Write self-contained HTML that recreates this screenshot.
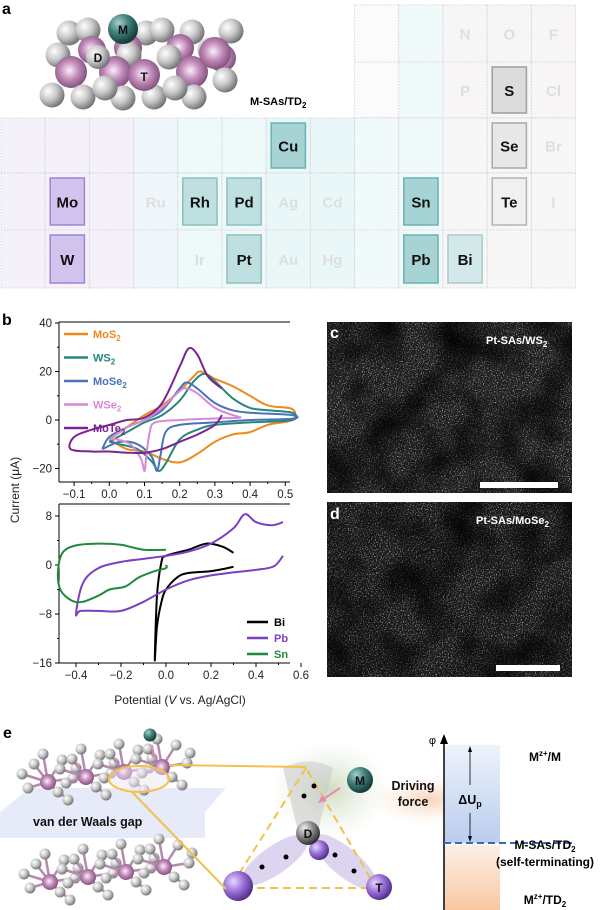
<!DOCTYPE html>
<html><head><meta charset="utf-8">
<style>
html,body{margin:0;padding:0;background:#fff;}
body{width:600px;height:910px;position:relative;overflow:hidden;font-family:"Liberation Sans",Arial,sans-serif;}
svg{position:absolute;left:0;top:0;}
</style></head>
<body>
<svg id="fig" width="600" height="910" viewBox="0 0 600 910" xmlns="http://www.w3.org/2000/svg">
<defs>
 <radialGradient id="gGray" cx="0.35" cy="0.35" r="0.7"><stop offset="0" stop-color="#ffffff"/><stop offset="0.5" stop-color="#c8c8c8"/><stop offset="1" stop-color="#6e6e6e"/></radialGradient>
 <radialGradient id="gPink" cx="0.45" cy="0.45" r="0.65"><stop offset="0" stop-color="#fbeefa"/><stop offset="0.45" stop-color="#c08ab8"/><stop offset="1" stop-color="#6d3f68"/></radialGradient>
 <radialGradient id="gTeal" cx="0.35" cy="0.3" r="0.7"><stop offset="0" stop-color="#a6d0cc"/><stop offset="0.5" stop-color="#3f7f7a"/><stop offset="1" stop-color="#163a38"/></radialGradient>
 <radialGradient id="gPurp" cx="0.35" cy="0.35" r="0.7"><stop offset="0" stop-color="#e6d7ff"/><stop offset="0.5" stop-color="#9a6fd8"/><stop offset="1" stop-color="#4d2c85"/></radialGradient>
 <radialGradient id="gD" cx="0.35" cy="0.3" r="0.7"><stop offset="0" stop-color="#f0f0f0"/><stop offset="0.5" stop-color="#8c8c8c"/><stop offset="1" stop-color="#333"/></radialGradient>
 <radialGradient id="glowG" cx="0.5" cy="0.5" r="0.5"><stop offset="0" stop-color="#c9d8b8" stop-opacity="0.9"/><stop offset="1" stop-color="#e6efe0" stop-opacity="0"/></radialGradient>
 <radialGradient id="glowO" cx="0.5" cy="0.5" r="0.5"><stop offset="0" stop-color="#f6c9a8" stop-opacity="0.8"/><stop offset="1" stop-color="#fbe5d6" stop-opacity="0"/></radialGradient>
 <linearGradient id="blueBand" x1="0" y1="0" x2="0" y2="1"><stop offset="0" stop-color="#eef3fb"/><stop offset="1" stop-color="#b9cdee"/></linearGradient>
 <linearGradient id="orgBand" x1="0" y1="0" x2="0" y2="1"><stop offset="0" stop-color="#fdf0e6"/><stop offset="1" stop-color="#f8c8a2"/></linearGradient>
 <filter id="tem" x="0" y="0" width="100%" height="100%">
  <feTurbulence type="fractalNoise" baseFrequency="0.85" numOctaves="2" seed="3" result="n"/>
  <feColorMatrix in="n" type="matrix" values="0 0 0 0 0  0 0 0 0 0  0 0 0 0 0  3.2 0 0 0 -1.75" result="a"/>
  <feFlood flood-color="#e0e0e0"/>
  <feComposite in2="a" operator="in"/>
 </filter>
 <filter id="tem2" x="0" y="0" width="100%" height="100%">
  <feTurbulence type="fractalNoise" baseFrequency="0.025" numOctaves="2" seed="7" result="n"/>
  <feColorMatrix in="n" type="matrix" values="0 0 0 0 0  0 0 0 0 0  0 0 0 0 0  2.0 0 0 0 -0.75" result="a"/>
  <feFlood flood-color="#000"/>
  <feComposite in2="a" operator="in"/>
 </filter>
</defs>

<!-- panel a -->
<text x="2" y="14" font-size="16" font-weight="bold">a</text>
<g id="ptable"></g>
<g id="ballmodel"></g>
<text x="250" y="105" font-size="11" font-weight="bold">M-SAs/TD<tspan font-size="8" dy="3">2</tspan></text>

<!-- panel b -->
<text x="2" y="325" font-size="16" font-weight="bold">b</text>
<g id="chartTop"></g>
<g id="chartBot"></g>
<text transform="translate(19,490) rotate(-90)" text-anchor="middle" font-size="12" fill="#222">Current (μA)</text>
<text x="180" y="704" text-anchor="middle" font-size="12" fill="#222">Potential (<tspan font-style="italic">V</tspan> vs. Ag/AgCl)</text>

<!-- panels c, d -->
<g>
 <rect x="327" y="322" width="245" height="171" fill="#1e1e1e"/>
 <rect x="327" y="322" width="245" height="171" filter="url(#tem)"/>
 <rect x="327" y="322" width="245" height="171" filter="url(#tem2)"/>
 <rect x="480" y="482" width="78" height="6" fill="#fff"/>
 <text x="330" y="338" font-size="16" font-weight="bold" fill="#fff">c</text>
 <text x="486" y="344" font-size="11" font-weight="bold" fill="#fff">Pt-SAs/WS<tspan font-size="8" dy="3">2</tspan></text>
</g>
<g>
 <rect x="327" y="502" width="245" height="175" fill="#1a1a1a"/>
 <rect x="327" y="502" width="245" height="175" filter="url(#tem)"/>
 <rect x="327" y="502" width="245" height="175" filter="url(#tem2)"/>
 <rect x="496" y="665" width="64" height="6" fill="#fff"/>
 <text x="330" y="519" font-size="16" font-weight="bold" fill="#fff">d</text>
 <text x="476" y="524" font-size="11" font-weight="bold" fill="#fff">Pt-SAs/MoSe<tspan font-size="8" dy="3">2</tspan></text>
</g>

<!-- panel e -->
<text x="3" y="738" font-size="16" font-weight="bold">e</text>
<g>
 <polygon points="0,812 30,788 226,788 205,812 205,838 0,838" fill="#e4e9f8" opacity="0.9"/>
 <text x="33" y="826" font-size="12.5" font-weight="bold" fill="#111">van der Waals gap</text>
</g>
<g id="crystal"></g>
<g>
 <ellipse cx="330" cy="790" rx="60" ry="50" fill="url(#glowG)"/>
 <ellipse cx="430" cy="800" rx="60" ry="25" fill="url(#glowO)"/>
 <path d="M283,768 Q308,755 333,768 L318,832 L298,832 Z" fill="#c8c8c8" opacity="0.55"/>
 <ellipse cx="275" cy="860" rx="40" ry="14" transform="rotate(-35 275 860)" fill="#cfc3ea" opacity="0.7"/>
 <ellipse cx="345" cy="862" rx="40" ry="14" transform="rotate(40 345 862)" fill="#cfc3ea" opacity="0.7"/>
 <polygon points="306,768 230,888 376,888" fill="none" stroke="#f3c14a" stroke-width="2" stroke-dasharray="8,5"/>
 <circle cx="319" cy="850" r="10" fill="url(#gPurp)"/>
 <circle cx="308" cy="833" r="12" fill="url(#gD)"/>
 <text x="308" y="838" text-anchor="middle" font-size="12" font-weight="bold" fill="#111">D</text>
 <circle cx="238" cy="886" r="15" fill="url(#gPurp)"/>
 <circle cx="379" cy="887" r="13" fill="url(#gPurp)"/>
 <text x="379" y="892" text-anchor="middle" font-size="12" font-weight="bold" fill="#111">T</text>
 <circle cx="360" cy="780" r="13" fill="url(#gTeal)"/>
 <text x="360" y="785" text-anchor="middle" font-size="12" font-weight="bold" fill="#111">M</text>
 <line x1="340" y1="788" x2="322" y2="800" stroke="#ea89b4" stroke-width="2"/>
 <polygon points="318,803 322,795 327,801" fill="#ea89b4"/>
 <circle cx="314" cy="786" r="2.5" fill="#000"/><circle cx="304" cy="796" r="2.5" fill="#000"/>
 <circle cx="286" cy="857" r="2.5" fill="#000"/><circle cx="262" cy="867" r="2.5" fill="#000"/>
 <circle cx="335" cy="855" r="2.5" fill="#000"/><circle cx="354" cy="871" r="2.5" fill="#000"/>
 <text x="413" y="790" text-anchor="middle" font-size="12.5" font-weight="bold" fill="#111">Driving</text>
 <text x="413" y="806" text-anchor="middle" font-size="12.5" font-weight="bold" fill="#111">force</text>
</g>
<line x1="169" y1="765" x2="306" y2="767" stroke="#f3c14a" stroke-width="2"/>
<line x1="132" y1="792" x2="226" y2="889" stroke="#f3c14a" stroke-width="2"/>
<ellipse cx="139" cy="779" rx="30" ry="13" fill="#efe6f5" fill-opacity="0.5" stroke="#f3c14a" stroke-width="2"/>
<circle cx="150" cy="735" r="6.5" fill="url(#gTeal)"/>
<line x1="152" y1="745" x2="155" y2="760" stroke="#ea89b4" stroke-width="2"/>

<g>
 <rect x="445" y="745" width="55" height="98" fill="url(#blueBand)"/>
 <rect x="445" y="845" width="55" height="65" fill="url(#orgBand)"/>
 <line x1="444" y1="910" x2="444" y2="743" stroke="#000" stroke-width="1.5"/>
 <polygon points="440,744 444,734 448,744" fill="#000"/>
 <text x="436" y="744" font-size="11" text-anchor="end">φ</text>
 <line x1="444" y1="843" x2="572" y2="843" stroke="#3f66b5" stroke-width="2" stroke-dasharray="7,4"/>
 <line x1="470" y1="748" x2="470" y2="785" stroke="#000" stroke-width="0.8"/>
 <line x1="470" y1="813" x2="470" y2="840" stroke="#000" stroke-width="0.8"/>
 <polygon points="468,752 470,746 472,752" fill="#000"/><polygon points="468,836 470,842 472,836" fill="#000"/>
 <text x="470" y="804" text-anchor="middle" font-size="12.5" font-weight="bold">ΔU<tspan font-size="9" dy="3">p</tspan></text>
 <text x="545" y="761" text-anchor="middle" font-size="12" font-weight="bold">M<tspan font-size="8" dy="-5">z+</tspan><tspan dy="5">/M</tspan></text>
 <text x="545" y="849" text-anchor="middle" font-size="12" font-weight="bold">M-SAs/TD<tspan font-size="8" dy="3">2</tspan></text>
 <text x="545" y="866" text-anchor="middle" font-size="12" font-weight="bold">(self-terminating)</text>
 <text x="545" y="904" text-anchor="middle" font-size="12" font-weight="bold">M<tspan font-size="8" dy="-5">z+</tspan><tspan dy="5">/TD</tspan><tspan font-size="8" dy="3">2</tspan></text>
</g>
</svg>

<script>
// ---------- chart data (top: TD2 substrates) ----------
const seriesTopNames = ["MoS2","WS2","MoSe2","WSe2","MoTe2"];
const seriesTopColors = ["#ee8a1c","#23877d","#4a72b8","#d889d6","#7b2392"];
const mos2V = [0.0,0.05,0.1,0.15,0.2,0.24,0.26,0.3,0.35,0.4,0.45,0.52,0.52,0.45,0.4,0.35,0.3,0.25,0.2,0.15,0.1,0.05,0.0];
const mos2I = [-8,-3,2,6,12,18,20,17,14,10,6,4.5,0,-2,-5,-6,-9,-14,-17.5,-16,-13,-12,-8];
const ws2V = [0.0,0.05,0.1,0.15,0.2,0.24,0.27,0.3,0.35,0.4,0.45,0.52,0.52,0.4,0.3,0.25,0.2,0.16,0.14,0.12,0.08,0.03,0.0];
const ws2I = [-9,-5,-1,2,8,16,19,16,9,5,4,3,0,-1,-2,-4,-8,-18,-21,-17,-12,-10,-9];
const mose2V = [-0.02,0.0,0.05,0.1,0.15,0.2,0.22,0.25,0.3,0.35,0.4,0.52,0.52,0.4,0.3,0.2,0.16,0.145,0.135,0.12,0.08,0.03,-0.02];
const mose2I = [-12,-7,-3,0,4,13,15.5,13,7,4,3,2,0.5,0,-1,-2,-5,-15,-21,-15,-10,-9,-12];
const wse2V = [0.0,0.05,0.1,0.15,0.2,0.22,0.25,0.3,0.35,0.37,0.3,0.2,0.13,0.115,0.105,0.1,0.09,0.06,0.02,0.0];
const wse2I = [-8,-3,0,5,12,13,11,5,2,1,0.6,0,-1,-5,-15,-21,-16,-10,-8,-8];
const mote2V = [0.32,0.28,0.25,0.225,0.2,0.15,0.1,0.05,0.0,-0.05,-0.1,-0.11,-0.05,0.0,0.05,0.1,0.15,0.2,0.25,0.3,0.32];
const mote2I = [13,18,27,29.5,22,7,1,0,-2,-4,-7,-12,-13,-13,-13.5,-13.5,-12,-9,-6,-2,2];
const topXTicks = [-0.1,0.0,0.1,0.2,0.3,0.4,0.5];
const topYTicks = [-20,0,20,40];

// ---------- chart data (bottom: metals) ----------
const seriesBotNames = ["Bi","Pb","Sn"];
const seriesBotColors = ["#000000","#7b3fc1","#1f8a3c"];
const biV = [0.3,0.25,0.18,0.1,0.0,-0.02,-0.04,-0.05,-0.04,-0.02,0.0,0.05,0.1,0.2,0.3];
const biI = [2,3,3.5,2.5,1.5,0.5,-5,-15.5,-10,-6,-4,-2,-1.3,-1,-0.3];
const pbV = [0.52,0.47,0.4,0.35,0.3,0.2,0.1,0.0,-0.1,-0.2,-0.3,-0.37,-0.4,-0.38,-0.3,-0.2,-0.1,0.0,0.1,0.2,0.3,0.4,0.48,0.52];
const pbI = [7,6.5,7,8.3,6,3.5,2.2,1.5,1,0.5,-0.5,-3,-8,-7.5,-7.5,-7.5,-6,-4,-2.5,-1.7,-1.2,-0.8,-0.2,1.5];
const snV = [0.0,-0.1,-0.2,-0.3,-0.4,-0.46,-0.48,-0.47,-0.42,-0.37,-0.3,-0.25,-0.18,-0.12,-0.05,0.0,0.0];
const snI = [2.5,2.5,3.3,3.5,3.2,2,-1,-4,-5.8,-6,-5,-4,-3.5,-2,-1,-0.5,0];
const botXTicks = [-0.4,-0.2,0.0,0.2,0.4,0.6];
const botYTicks = [-16,-8,0,8];

const NS = "http://www.w3.org/2000/svg";
function mk(tag, attrs, parent){ const e=document.createElementNS(NS,tag); for(const k in attrs) e.setAttribute(k,attrs[k]); parent.appendChild(e); return e; }

const topX = v => 109.3 + v*352;
const topY = v => 420 - v*2.425;
const botX = v => 166 + v*225;
const botY = v => 565 - v*6.125;

function smoothPath(pts){
  let d = "M"+pts[0][0].toFixed(1)+","+pts[0][1].toFixed(1);
  for(let i=0;i<pts.length-1;i++){
    const p0=pts[i-1]||pts[i], p1=pts[i], p2=pts[i+1], p3=pts[i+2]||p2;
    const c1=[p1[0]+(p2[0]-p0[0])/6, p1[1]+(p2[1]-p0[1])/6];
    const c2=[p2[0]-(p3[0]-p1[0])/6, p2[1]-(p3[1]-p1[1])/6];
    d+=" C"+c1[0].toFixed(1)+","+c1[1].toFixed(1)+" "+c2[0].toFixed(1)+","+c2[1].toFixed(1)+" "+p2[0].toFixed(1)+","+p2[1].toFixed(1);
  }
  return d;
}

function drawAxes(g, x0, x1, y0, y1, xt, yt, xs, ys){
  mk("line",{x1:x0,y1:y0,x2:x0,y2:y1,stroke:"#000","stroke-width":1},g);
  mk("line",{x1:x0,y1:y1,x2:x1,y2:y1,stroke:"#000","stroke-width":1},g);
  mk("line",{x1:x0,y1:y0,x2:x1,y2:y0,stroke:"#000","stroke-width":1},g);
  xt.forEach(v=>{
    const t=mk("line",{x1:xs(v),y1:y1,x2:xs(v),y2:y1+4,stroke:"#000"},g);
    
    
    const l=mk("text",{x:xs(v),y:y1+16,"text-anchor":"middle","font-size":11.5,fill:"#222"},g);
    l.textContent = (v<0?"\u2212":"")+Math.abs(v).toFixed(1);
    
    
  });
  yt.forEach(v=>{
    mk("line",{x1:x0-4,y1:ys(v),x2:x0,y2:ys(v),stroke:"#000"},g);
    const l=mk("text",{x:x0-7,y:ys(v)+4,"text-anchor":"end","font-size":11.5,fill:"#222"},g);
    l.textContent = (v<0?"\u2212":"")+Math.abs(v);
    
    
  });
  for(let i=0;i<yt.length-1;i++){ const m=(yt[i]+yt[i+1])/2; if(ys(m)<y1 && ys(m)>y0) mk("line",{x1:x0-2,y1:ys(m),x2:x0,y2:ys(m),stroke:"#000"},g); }
  for(let i=0;i<xt.length-1;i++){ const m=(xt[i]+xt[i+1])/2; mk("line",{x1:xs(m),y1:y1,x2:xs(m),y2:y1+2,stroke:"#000"},g); }
}

const gT = document.getElementById("chartTop");
drawAxes(gT, 59, 290, 322, 482, topXTicks, topYTicks, topX, topY);
const topData = [[mos2V,mos2I],[ws2V,ws2I],[mose2V,mose2I],[wse2V,wse2I],[mote2V,mote2I]];
topData.forEach((s,k)=>{
  const pts = s[0].map((v,i)=>[topX(v), topY(s[1][i])]);
  const p = mk("path",{d:smoothPath(pts),fill:"none",stroke:seriesTopColors[k],"stroke-width":2,"stroke-linejoin":"round"},gT);
  
  
  const ly = 334 + k*23.5;
  const ll = mk("line",{x1:64,y1:ly,x2:88,y2:ly,stroke:seriesTopColors[k],"stroke-width":2.5},gT);
  
  
  const lt = mk("text",{x:93,y:ly+4,"font-size":11,"font-weight":"bold",fill:seriesTopColors[k]},gT);
  
  
  const nm = seriesTopNames[k];
  lt.appendChild(document.createTextNode(nm.slice(0,-1)));
  const sub = mk("tspan",{"font-size":8,dy:3},lt); sub.textContent = nm.slice(-1);
});

const gB = document.getElementById("chartBot");
drawAxes(gB, 59, 290, 504, 663, botXTicks, botYTicks, botX, botY);
const botData = [[biV,biI],[pbV,pbI],[snV,snI]];
botData.forEach((s,k)=>{
  const pts = s[0].map((v,i)=>[botX(v), botY(s[1][i])]);
  const p = mk("path",{d:smoothPath(pts),fill:"none",stroke:seriesBotColors[k],"stroke-width":2,"stroke-linejoin":"round"},gB);
  
  
  const ly = 622 + k*16;
  const ll = mk("line",{x1:247,y1:ly,x2:268,y2:ly,stroke:seriesBotColors[k],"stroke-width":2.5},gB);
  
  
  const lt = mk("text",{x:274,y:ly+4,"font-size":11,"font-weight":"bold",fill:seriesBotColors[k]},gB);
  lt.textContent = seriesBotNames[k];
  
  
});

// ---------- periodic table ----------
const pt = document.getElementById("ptable");
const cw = 44.2, colX = i => 1 + i*cw;
const rowY = [5,62,118,173,230,288];
function colBg(c,r){
  if(r<2) return c>=10 ? "#f7f5f6" : (c===9 ? "#f1fafa" : "#fbfbfb");
  if(c<=2) return "#f5f1fb";
  if(c===3) return "#eff6fc";
  if(c<=7) return (c===6||c===7) ? "#e9f7f8" : "#eef9f9";
  if(c<=9) return "#f1fafa";
  return "#f8f7f8";
}
for(let r=0;r<5;r++){
  for(let c=0;c<13;c++){
    if(r<2 && c<8) continue;
    const cell = mk("rect",{x:colX(c),y:rowY[r],width:cw,height:rowY[r+1]-rowY[r],fill:colBg(c,r),stroke:"#d6d6d6","stroke-width":1,"stroke-dasharray":"1.5,1.5"},pt);
    
    
  }
}
const elems = [
 ["N",10,0,0],["O",11,0,0],["F",12,0,0],["P",10,1,0],["S",11,1,"gS"],["Cl",12,1,0],
 ["Cu",6,2,"t"],["Se",11,2,"gSe"],["Br",12,2,0],
 ["Mo",1,3,"p"],["Ru",3,3,0],["Rh",4,3,"lt"],["Pd",5,3,"lt"],["Ag",6,3,0],["Cd",7,3,0],["Sn",9,3,"t"],["Te",11,3,"gTe"],["I",12,3,0],
 ["W",1,4,"p"],["Ir",4,4,0],["Pt",5,4,"lt"],["Au",6,4,0],["Hg",7,4,0],["Pb",9,4,"t"],["Bi",10,4,"lt2"]
];
const styles = {p:["#d2c3ee","#9c85d2"],t:["#a6d4d5","#6fb0b1"],lt:["#bfe0e0","#8fbfbf"],lt2:["#d3e9e9","#a8cccc"],gS:["#dcdcdc","#9e9e9e"],gSe:["#e8e8e8","#a8a8a8"],gTe:["#f0f0f0","#b4b4b4"]};
elems.forEach(e=>{
  const [sym,c,r,st]=e;
  const cx = colX(c)+cw/2, y0=rowY[r], y1=rowY[r+1];
  if(st){
    const s=styles[st];
    const tile = mk("rect",{x:colX(c)+5,y:y0+5,width:cw-10,height:y1-y0-10,fill:s[0],stroke:s[1],"stroke-width":1.5},pt);
    
    
  }
  const t = mk("text",{x:cx,y:(y0+y1)/2+6,"text-anchor":"middle","font-size":15,"font-weight":"bold",fill:st?"#111":"#dedede"},pt);
  t.textContent = sym;
  
  
});

// ---------- ball model (decorative) ----------
const bm = document.getElementById("ballmodel");
[[69,33],[88,30],[146,33],[162,30],[192,32],[231,31]].forEach(p=>mk("circle",{cx:p[0],cy:p[1],r:12.5,fill:"url(#gGray)"},bm));
[[92,50],[128,48],[180,48],[222,58]].forEach(p=>mk("circle",{cx:p[0],cy:p[1],r:14,fill:"url(#gPink)"},bm));
[[58,55],[129,55],[169,57],[210,50]].forEach(p=>mk("circle",{cx:p[0],cy:p[1],r:12.5,fill:"url(#gGray)"},bm));
[[71,72],[115,72],[192,72],[215,53]].forEach(p=>mk("circle",{cx:p[0],cy:p[1],r:16,fill:"url(#gPink)"},bm));
[[52,95],[83,97],[123,98],[154,97],[194,97],[225,80],[105,88],[175,88]].forEach(p=>mk("circle",{cx:p[0],cy:p[1],r:12.5,fill:"url(#gGray)"},bm));
mk("circle",{cx:144,cy:75,r:16,fill:"url(#gPink)"},bm);
mk("circle",{cx:98,cy:57,r:12,fill:"url(#gGray)"},bm);
mk("circle",{cx:123,cy:29,r:15,fill:"url(#gTeal)"},bm);
[["M",123,34],["D",98,62],["T",144,81]].forEach(l=>{ const t=mk("text",{x:l[1],y:l[2],"text-anchor":"middle","font-size":12,"font-weight":"bold",fill:"#111"},bm); t.textContent=l[0]; });

// ---------- crystal (decorative) ----------
const cr = document.getElementById("crystal");
function layer(ox, oy){
  for(let i=0;i<4;i++){
    const mx = ox + i*38, my = oy + 14 - i*5;
    [[-14,-18],[14,-22],[-20,6],[10,10],[25,-4],[-5,-28],[-26,-8],[20,18]].forEach(d=>{
      mk("line",{x1:mx,y1:my,x2:mx+d[0],y2:my+d[1],stroke:"#b48ab0","stroke-width":2.5},cr);
    });
    [[-14,-18],[14,-22],[-5,-28],[28,-14],[-26,-8]].forEach(d=>mk("circle",{cx:mx+d[0],cy:my+d[1],r:5.5,fill:"url(#gGray)"},cr));
    mk("circle",{cx:mx,cy:my,r:8,fill:"url(#gPink)"},cr);
    [[-20,6],[10,10],[25,-4],[20,18]].forEach(d=>mk("circle",{cx:mx+d[0],cy:my+d[1],r:5.5,fill:"url(#gGray)"},cr));
  }
}
layer(48, 768);
layer(50, 868);
</script>
</body></html>
